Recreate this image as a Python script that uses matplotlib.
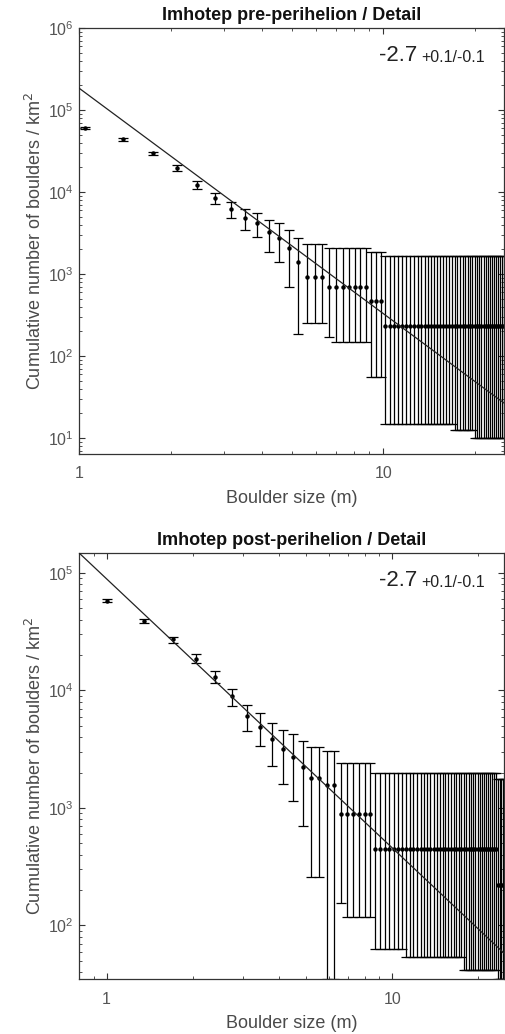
import matplotlib
matplotlib.use("Agg")
import matplotlib.pyplot as plt
import numpy as np
from matplotlib.ticker import FixedLocator, LogLocator, NullFormatter, FixedFormatter

plt.rcParams['font.family'] = ['Liberation Sans', 'DejaVu Sans']

# ---------------- data: pre-perihelion ----------------
pre_size = [1.05, 1.40, 1.75, 2.10, 2.45, 2.80, 3.15, 3.50, 3.85, 4.20,
            4.55, 4.90, 5.25, 5.60, 5.95, 6.30, 6.65, 7.00, 7.35, 7.70,
            8.05, 8.40, 8.75, 9.10, 9.45, 9.80, 10.15, 10.50, 10.85, 11.20,
            11.55, 11.90, 12.25, 12.60, 12.95, 13.30, 13.65, 14.00, 14.35, 14.70,
            15.05, 15.40, 15.75, 16.10, 16.45, 16.80, 17.15, 17.50, 17.85, 18.20,
            18.55, 18.90, 19.25, 19.60, 19.95, 20.30, 20.65, 21.00, 21.35, 21.70,
            22.05, 22.40, 22.75, 23.10, 23.45, 23.80, 24.15, 24.50, 24.85]
pre_count = [60300, 44300, 29900, 19600, 12200, 8450, 6200, 4820, 4190, 3250,
             2750, 2070, 1400, 918, 918, 918, 693, 693, 693, 693,
             693, 693, 693, 469, 469, 469, 232, 232, 232, 232,
             232, 232, 232, 232, 232, 232, 232, 232, 232, 232,
             232, 232, 232, 232, 232, 232, 232, 232, 232, 232,
             232, 232, 232, 232, 232, 232, 232, 232, 232, 232,
             232, 232, 232, 232, 232, 232, 232, 232, 232]
pre_upper = [61800, 45600, 30800, 21300, 13600, 9700, 7550, 6200, 5550, 4560,
             4190, 3440, 2750, 2320, 2320, 2320, 2070, 2070, 2070, 2070,
             2070, 2070, 2070, 1850, 1850, 1850, 1660, 1660, 1660, 1660,
             1660, 1660, 1660, 1660, 1660, 1660, 1660, 1660, 1660, 1660,
             1660, 1660, 1660, 1660, 1660, 1660, 1660, 1660, 1660, 1660,
             1660, 1660, 1660, 1660, 1660, 1660, 1660, 1660, 1660, 1660,
             1660, 1660, 1660, 1660, 1660, 1660, 1660, 1660, 1660]
pre_lower = [58800, 41900, 28200, 18000, 10900, 7100, 4800, 3440, 2830, 1850,
             1400, 693, 185, 252, 252, 252, 171, 148, 148, 148,
             148, 148, 148, 55, 55, 55, 14.8, 14.8, 14.8, 14.8,
             14.8, 14.8, 14.8, 14.8, 14.8, 14.8, 14.8, 14.8, 14.8, 14.8,
             14.8, 14.8, 14.8, 14.8, 14.8, 14.8, 12.5, 12.5, 12.5, 12.5,
             12.5, 12.5, 12.5, 12.5, 10.0, 10.0, 10.0, 10.0, 10.0, 10.0,
             10.0, 10.0, 10.0, 10.0, 10.0, 10.0, 10.0, 10.0, 10.0]
pre_fit_amp = 1.85e5
pre_fit_slope = -2.75

# ---------------- data: post-perihelion ----------------
post_size = [1.00, 1.35, 1.70, 2.05, 2.40, 2.75, 3.10, 3.45, 3.80, 4.15,
             4.50, 4.85, 5.20, 5.55, 5.90, 6.25, 6.60, 6.95, 7.30, 7.65,
             8.00, 8.35, 8.70, 9.05, 9.40, 9.75, 10.10, 10.45, 10.80, 11.15,
             11.50, 11.85, 12.20, 12.55, 12.90, 13.25, 13.60, 13.95, 14.30, 14.65,
             15.00, 15.35, 15.70, 16.05, 16.40, 16.75, 17.10, 17.45, 17.80, 18.15,
             18.50, 18.85, 19.20, 19.55, 19.90, 20.25, 20.60, 20.95, 21.30, 21.65,
             22.00, 22.35, 22.70, 23.05, 23.40, 23.75, 24.10, 24.45, 24.80]
post_count = [57800, 39000, 27400, 18500, 13000, 8980, 6070, 4890, 3860, 3180,
              2720, 2230, 1800, 1800, 1570, 1570, 889, 889, 889, 889,
              889, 889, 448, 448, 448, 448, 448, 448, 448, 448,
              448, 448, 448, 448, 448, 448, 448, 448, 448, 448,
              448, 448, 448, 448, 448, 448, 448, 448, 448, 448,
              448, 448, 448, 448, 448, 448, 448, 448, 448, 448,
              448, 448, 448, 448, 221, 221, 221, 221, 221]
post_upper = [60000, 40700, 28500, 20500, 14700, 10300, 7500, 6450, 5280, 4610,
              4270, 3720, 3300, 3300, 3050, 3050, 2420, 2420, 2420, 2420,
              2420, 2420, 1990, 1990, 1990, 1990, 1990, 1990, 1990, 1990,
              1990, 1990, 1990, 1990, 1990, 1990, 1990, 1990, 1990, 1990,
              1990, 1990, 1990, 1990, 1990, 1990, 1990, 1990, 1990, 1990,
              1990, 1990, 1990, 1990, 1990, 1990, 1990, 1990, 1990, 1990,
              1990, 1990, 1990, 1990, 1770, 1770, 1770, 1770, 1770]
post_lower = [56700, 37500, 25400, 17100, 11600, 7380, 4500, 3370, 2270, 1600,
              1150, 703, 259, 259, 35.2, 35.2, 155, 118, 118, 118,
              118, 118, 63, 63, 63, 63, 63, 63, 63, 54,
              54, 54, 54, 54, 54, 54, 54, 54, 54, 54,
              54, 54, 54, 54, 54, 54, 54, 54, 41.8, 41.8,
              41.8, 41.8, 41.8, 41.8, 41.8, 41.8, 41.8, 41.8, 41.8, 41.8,
              41.8, 41.8, 41.8, 41.8, 35.2, 35.2, 35.2, 35.2, 35.2]
post_fit_amp = 8.9e4
post_fit_slope = -2.29

slope_text = "-2.7"
err_text = "+0.1/-0.1"

TICK_GREY = '#555555'
LABEL_GREY = '#4a4a4a'

fig = plt.figure(figsize=(5.05, 10.34), dpi=100)
W, H = 505.0, 1034.0


def make_axes(l, t, r, b):
    return fig.add_axes([l / W, 1 - b / H, (r - l) / W, (b - t) / H])


def draw_panel(ax, size, count, upper, lower, amp, slope, xlim, ylim, yticks, title):
    size = np.asarray(size)
    count = np.asarray(count, dtype=float)
    yerr = [count - np.asarray(lower), np.asarray(upper) - count]
    ax.set_xscale('log')
    ax.set_yscale('log')
    xs = np.geomspace(xlim[0], xlim[1], 50)
    ax.plot(xs, amp * xs ** slope, color='#222222', lw=0.9, zorder=3)
    ax.errorbar(size, count, yerr=yerr, fmt='o', ms=2.2, color='black',
                ecolor='black', elinewidth=0.9, capsize=3.6, capthick=0.9, zorder=2)
    ax.set_xlim(*xlim)
    ax.set_ylim(*ylim)
    ax.xaxis.set_major_locator(FixedLocator([1, 10]))
    ax.xaxis.set_major_formatter(FixedFormatter(['1', '10']))
    ax.xaxis.set_minor_locator(LogLocator(base=10, subs=np.arange(2, 10) * 1.0, numticks=50))
    ax.xaxis.set_minor_formatter(NullFormatter())
    ax.yaxis.set_major_locator(FixedLocator(yticks))
    ax.yaxis.set_minor_locator(LogLocator(base=10, subs=np.arange(2, 10) * 1.0, numticks=50))
    ax.yaxis.set_minor_formatter(NullFormatter())
    ax.tick_params(which='both', direction='in', top=True, right=True, colors='#333333',
                   labelcolor=TICK_GREY, labelsize=11.5)
    ax.tick_params(which='major', length=4, width=0.8)
    ax.tick_params(which='minor', length=2, width=0.6)
    ax.tick_params(axis='x', pad=9)
    ax.tick_params(axis='y', pad=4)
    for s in ax.spines.values():
        s.set_color('#333333')
        s.set_linewidth(0.9)
    ax.set_xlabel('Boulder size (m)', color=LABEL_GREY, fontsize=13, labelpad=6)
    ax.set_ylabel('Cumulative number of boulders / km$^2$', color=LABEL_GREY,
                  fontsize=13, labelpad=2)
    ax.set_title(title, fontsize=13, fontweight='bold', color='#111111', pad=6)
    ax.text(0.706, 0.935, slope_text, transform=ax.transAxes, fontsize=16,
            color='#222222', ha='left', va='center')
    ax.text(0.806, 0.93, err_text, transform=ax.transAxes, fontsize=11.5,
            color='#222222', ha='left', va='center')


ax1 = make_axes(79, 28, 504, 454)
draw_panel(ax1, pre_size, pre_count, pre_upper, pre_lower, pre_fit_amp, pre_fit_slope,
           (1.0, 24.9), (6.4, 1e6), [1e1, 1e2, 1e3, 1e4, 1e5, 1e6],
           'Imhotep pre-perihelion / Detail')

ax2 = make_axes(79, 553, 504, 979)
draw_panel(ax2, post_size, post_count, post_upper, post_lower, post_fit_amp, post_fit_slope,
           (0.8, 24.6), (35, 1.48e5), [1e2, 1e3, 1e4, 1e5],
           'Imhotep post-perihelion / Detail')

fig.savefig('out.png', dpi=100)
